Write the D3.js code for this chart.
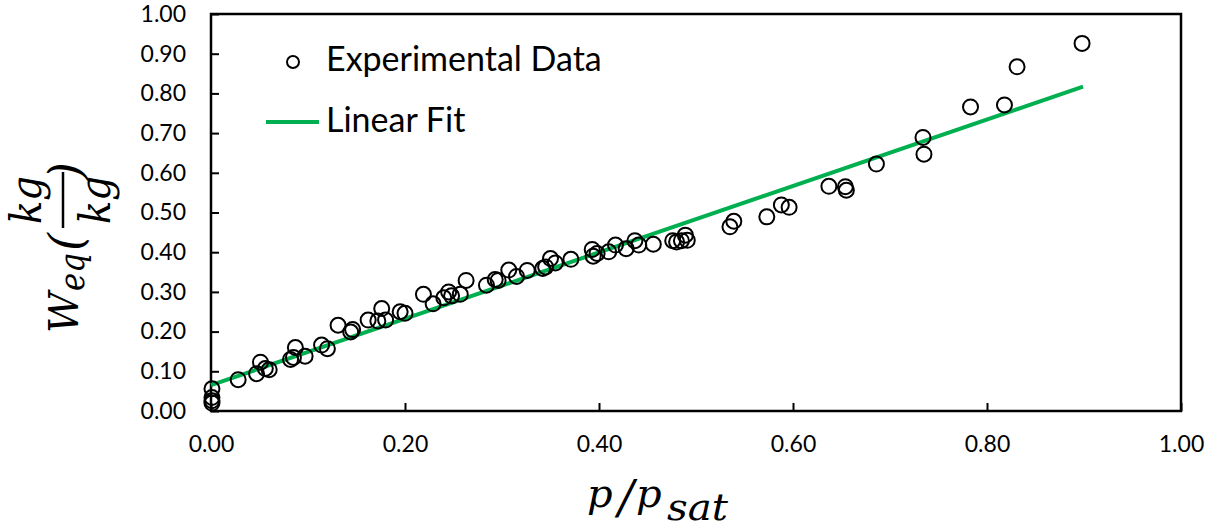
<!DOCTYPE html>
<html>
<head>
<meta charset="utf-8">
<script src="https://cdn.jsdelivr.net/npm/d3@7"></script>
<style>
  html, body { margin: 0; padding: 0; background: #fff; }
  svg { display: block; }
  .tick text { font-family: Lato, "Open Sans", sans-serif; font-size: 23px; fill: #000; }
  .legend-label { font-family: Lato, "Open Sans", sans-serif; font-size: 34px; fill: #000; }
  .math { font-family: "DejaVu Serif", serif; font-style: italic; fill: #000; }
</style>
</head>
<body>
<svg id="chart"></svg>
<script>
// experimental points: relative pressure p/psat and equilibrium uptake W_eq (kg/kg)
const pRatio = [
  0.001, 0.001, 0.001, 0.001, 0.028, 0.047, 0.051, 0.056, 0.060, 0.082,
  0.085, 0.087, 0.097, 0.114, 0.120, 0.131, 0.144, 0.146, 0.162, 0.172,
  0.176, 0.180, 0.195, 0.200, 0.219, 0.229, 0.240, 0.245, 0.248, 0.257,
  0.263, 0.284, 0.293, 0.296, 0.307, 0.315, 0.326, 0.342, 0.345, 0.350,
  0.355, 0.371, 0.393, 0.394, 0.398, 0.410, 0.417, 0.428, 0.437, 0.441,
  0.456, 0.476, 0.480, 0.485, 0.489, 0.491, 0.535, 0.539, 0.573, 0.588,
  0.596, 0.637, 0.654, 0.655, 0.686, 0.734, 0.735, 0.783, 0.818, 0.831,
  0.898
];
const wEq = [
  0.056, 0.034, 0.026, 0.020, 0.079, 0.094, 0.123, 0.107, 0.104, 0.130,
  0.135, 0.160, 0.138, 0.166, 0.157, 0.216, 0.199, 0.205, 0.229, 0.227,
  0.258, 0.229, 0.250, 0.246, 0.294, 0.270, 0.285, 0.300, 0.290, 0.294,
  0.329, 0.317, 0.331, 0.329, 0.355, 0.339, 0.354, 0.359, 0.363, 0.384,
  0.373, 0.382, 0.407, 0.390, 0.397, 0.401, 0.418, 0.409, 0.429, 0.418,
  0.420, 0.429, 0.426, 0.429, 0.443, 0.430, 0.464, 0.478, 0.489, 0.519,
  0.513, 0.566, 0.565, 0.556, 0.622, 0.689, 0.647, 0.766, 0.771, 0.867,
  0.926
];

// linear trendline end points
const fitX = [0, 0.899];
const fitY = [0.065, 0.817];

const xTicks = [0, 0.2, 0.4, 0.6, 0.8, 1.0];
const yTicks = [0, 0.1, 0.2, 0.3, 0.4, 0.5, 0.6, 0.7, 0.8, 0.9, 1.0];
const seriesNames = ["Experimental Data", "Linear Fit"];

const width = 1220, height = 531;
const margin = {top: 14, right: 39, bottom: 120, left: 211};
const innerW = width - margin.left - margin.right;
const innerH = height - margin.top - margin.bottom;
const green = "#00b050";

const svg = d3.select("#chart").attr("width", width).attr("height", height);
const g = svg.append("g").attr("transform", `translate(${margin.left},${margin.top})`);

const x = d3.scaleLinear().domain([0, 1]).range([0, innerW]);
const y = d3.scaleLinear().domain([0, 1]).range([innerH, 0]);
const fmt = d3.format(".2f");

// axes, ticks point into the plot
const yAxis = g.append("g")
    .call(d3.axisLeft(y).tickValues(yTicks).tickFormat(fmt).tickSizeInner(-8).tickSizeOuter(0).tickPadding(25));
const xAxis = g.append("g")
    .attr("transform", `translate(0,${innerH})`)
    .call(d3.axisBottom(x).tickValues(xTicks).tickFormat(fmt).tickSizeInner(-8).tickSizeOuter(0).tickPadding(25));
[yAxis, xAxis].forEach(a => {
  a.select(".domain").remove();
  a.selectAll(".tick line").attr("stroke", "#000").attr("stroke-width", 2);
});

// plot frame
g.append("rect")
    .attr("width", innerW).attr("height", innerH)
    .attr("fill", "none").attr("stroke", "#000").attr("stroke-width", 2.5);

// fit line
const points = pRatio.map((p, i) => ({p: p, w: wEq[i]}));
const fitLine = d3.line().x(d => x(d[0])).y(d => y(d[1]));
g.append("path")
    .datum(fitX.map((v, i) => [v, fitY[i]]))
    .attr("d", fitLine)
    .attr("fill", "none").attr("stroke", green).attr("stroke-width", 4);

// data circles
g.selectAll(".pt")
  .data(points)
  .join("circle")
    .attr("class", "pt")
    .attr("cx", d => x(d.p))
    .attr("cy", d => y(d.w))
    .attr("r", 7.5)
    .attr("fill", "none")
    .attr("stroke", "#000")
    .attr("stroke-width", 2);

// legend
const legend = svg.append("g");
legend.append("circle")
    .attr("cx", 293).attr("cy", 62).attr("r", 6)
    .attr("fill", "none").attr("stroke", "#000").attr("stroke-width", 2);
legend.append("line")
    .attr("x1", 266).attr("x2", 319).attr("y1", 122).attr("y2", 122)
    .attr("stroke", green).attr("stroke-width", 4);
legend.selectAll(".legend-label")
  .data(seriesNames)
  .join("text")
    .attr("class", "legend-label")
    .attr("x", 326)
    .attr("y", (d, i) => 71 + i * 61)
    .text(d => d);

// x axis title: p/p_sat
const xt = svg.append("g").attr("class", "math");
xt.append("text").attr("x", 587).attr("y", 507).attr("font-size", 40).text("p");
xt.append("text").attr("x", 626).attr("y", 513).attr("font-size", 46)
    .attr("text-anchor", "middle").text("/");
xt.append("text").attr("x", 636).attr("y", 507).attr("font-size", 40).text("p");
xt.append("text").attr("x", 667).attr("y", 520).attr("font-size", 37)
    .attr("textLength", 61).attr("lengthAdjust", "spacingAndGlyphs").text("sat");

// y axis title: W_eq (kg/kg), rotated
const yt = svg.append("g").attr("class", "math").attr("transform", "rotate(-90)");
yt.append("text").attr("x", -333).attr("y", 78).attr("font-size", 41)
    .attr("textLength", 41).attr("lengthAdjust", "spacingAndGlyphs").text("W");
yt.append("text").attr("x", -291).attr("y", 84).attr("font-size", 36)
    .attr("textLength", 38).attr("lengthAdjust", "spacingAndGlyphs").text("eq");
yt.append("text").attr("x", -251).attr("y", 82).attr("font-size", 46).text("(");
yt.append("text").attr("x", -180).attr("y", 82).attr("font-size", 46).text(")");
yt.append("line").attr("x1", -228).attr("x2", -172).attr("y1", 63).attr("y2", 63)
    .attr("stroke", "#000").attr("stroke-width", 2.5);
yt.append("text").attr("x", -200).attr("y", 41).attr("font-size", 43)
    .attr("text-anchor", "middle").attr("textLength", 48).attr("lengthAdjust", "spacingAndGlyphs").text("kg");
yt.append("text").attr("x", -200).attr("y", 110).attr("font-size", 43)
    .attr("text-anchor", "middle").attr("textLength", 48).attr("lengthAdjust", "spacingAndGlyphs").text("kg");
</script>
</body>
</html>
